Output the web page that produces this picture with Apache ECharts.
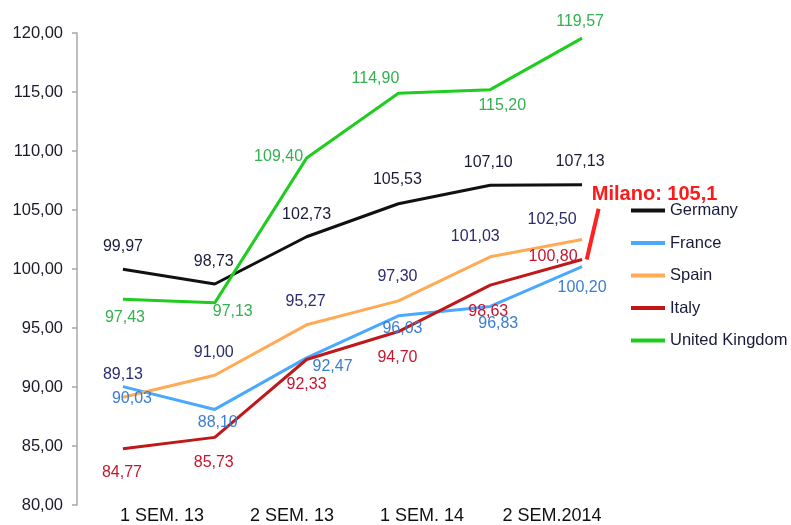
<!DOCTYPE html>
<html>
<head>
<meta charset="utf-8">
<script src="https://cdn.jsdelivr.net/npm/echarts@6/dist/echarts.min.js"></script>
<style>
  html, body { margin: 0; padding: 0; background: #fff; }
  #chart { width: 791px; height: 525px; }
</style>
</head>
<body>
<div id="chart"></div>
<script>
// six half-year points, only four tick labels are printed under the axis
const periods = ['p1', 'p2', 'p3', 'p4', 'p5', 'p6']
const tickLabels = ['1 SEM. 13', '2 SEM. 13', '1 SEM. 14', '2 SEM.2014']

const germany = [99.97, 98.73, 102.73, 105.53, 107.10, 107.13]
const france = [90.03, 88.10, 92.47, 96.03, 96.83, 100.20]
const spain = [89.13, 91.00, 95.27, 97.30, 101.03, 102.50]
const italy = [84.77, 85.73, 92.33, 94.70, 98.63, 100.80]
const uk = [97.43, 97.13, 109.40, 114.90, 115.20, 119.57]

const milanoFrom = 100.80
const milanoValue = 105.1

// label placement (px, relative to the point) – layout only
const offsets = {
  Germany: [[0, -23], [-1, -22], [0, -22], [-1, -24], [-2, -23], [-2, -23]],
  France: [[9, 12], [3, 13], [26, 9], [4, 13], [8, 17], [0, 21]],
  Spain: [[0, -23], [-1, -23], [-1, -23], [-1, -24], [-15, -20], [-30, -20]],
  Italy: [[-1, 24], [-1, 25], [0, 25], [-1, 26], [-2, 26], [-29, -3]],
  'United Kingdom': [[2, 18], [18, 9], [-28, -1], [-23, -15], [12, 16], [-2, -16]]
}

const fmt = v => v.toFixed(2).replace('.', ',')
const FONT = 'Liberation Sans, Arial, sans-serif'

function makeSeries(name, values, lineColor, labelColor) {
  return {
    name,
    type: 'line',
    xAxisIndex: 0,
    yAxisIndex: 0,
    data: values.map((v, i) => ({
      value: v,
      label: { offset: offsets[name][i] }
    })),
    symbol: 'circle',
    symbolSize: 0,
    lineStyle: { color: lineColor, width: 3 },
    itemStyle: { color: lineColor },
    label: {
      show: true,
      position: 'inside',
      formatter: p => fmt(p.value),
      color: labelColor,
      fontSize: 16,
      fontFamily: FONT
    },
    emphasis: { disabled: true },
    animation: false,
    z: 3
  }
}

const chart = echarts.init(document.getElementById('chart'))

chart.setOption({
  backgroundColor: '#fff',
  animation: false,
  grid: [
    { left: 77, top: 33, width: 551, bottom: 20 },
    { left: 97, top: 33, width: 520, bottom: 20 }
  ],
  legend: {
    orient: 'vertical',
    left: 631,
    top: 202,
    padding: 0,
    itemWidth: 34,
    itemHeight: 4,
    itemGap: 15.5,
    icon: 'rect',
    data: ['Germany', 'France', 'Spain', 'Italy', 'United Kingdom'],
    textStyle: { fontSize: 16.5, color: '#1a1a3a', fontFamily: FONT }
  },
  xAxis: [
    {
      type: 'category',
      gridIndex: 0,
      data: periods,
      boundaryGap: true,
      axisLine: { show: false },
      axisTick: { show: false },
      axisLabel: { show: false }
    },
    {
      type: 'category',
      gridIndex: 1,
      data: tickLabels,
      boundaryGap: true,
      axisLine: { show: false },
      axisTick: { show: false },
      axisLabel: { fontSize: 18, color: '#111', fontFamily: FONT, margin: 8 }
    },
    {
      // hidden numeric twin of axis 0, used for the Milano spike
      type: 'value',
      gridIndex: 0,
      min: -0.5,
      max: 5.5,
      show: false
    }
  ],
  yAxis: [
    {
      type: 'value',
      gridIndex: 0,
      min: 80,
      max: 120,
      interval: 5,
      splitLine: { show: false },
      axisLine: { show: true, onZero: false, lineStyle: { color: '#a8a8a8', width: 1.5 } },
      axisTick: { show: true, length: 5, lineStyle: { color: '#a8a8a8', width: 1.5 } },
      axisLabel: {
        formatter: v => fmt(v),
        fontSize: 16.5,
        color: '#1a1a2a',
        fontFamily: FONT,
        margin: 14
      }
    },
    { type: 'value', gridIndex: 1, min: 80, max: 120, show: false }
  ],
  series: [
    makeSeries('Germany', germany, '#111111', '#1b1b3a'),
    makeSeries('France', france, '#4aa9ff', '#3a7dd2'),
    makeSeries('Spain', spain, '#ffaa55', '#2b2b6e'),
    makeSeries('Italy', italy, '#c01818', '#c8142e'),
    makeSeries('United Kingdom', uk, '#1fcc1f', '#33b04f'),
    {
      name: 'Milano',
      type: 'line',
      xAxisIndex: 2,
      yAxisIndex: 0,
      data: [
        [5.05, milanoFrom],
        {
          value: [5.18, milanoValue],
          label: {
            show: true,
            position: 'inside',
            offset: [56, -14],
            formatter: 'Milano: ' + String(milanoValue).replace('.', ','),
            color: '#ff1a1a',
            fontSize: 20,
            fontWeight: 'bold',
            fontFamily: FONT
          }
        }
      ],
      symbol: 'circle',
      symbolSize: 0,
      lineStyle: { color: '#ff2222', width: 4 },
      itemStyle: { color: '#ff2222' },
      emphasis: { disabled: true },
      z: 4
    }
  ]
})

window.addEventListener('resize', () => chart.resize())
</script>
</body>
</html>
